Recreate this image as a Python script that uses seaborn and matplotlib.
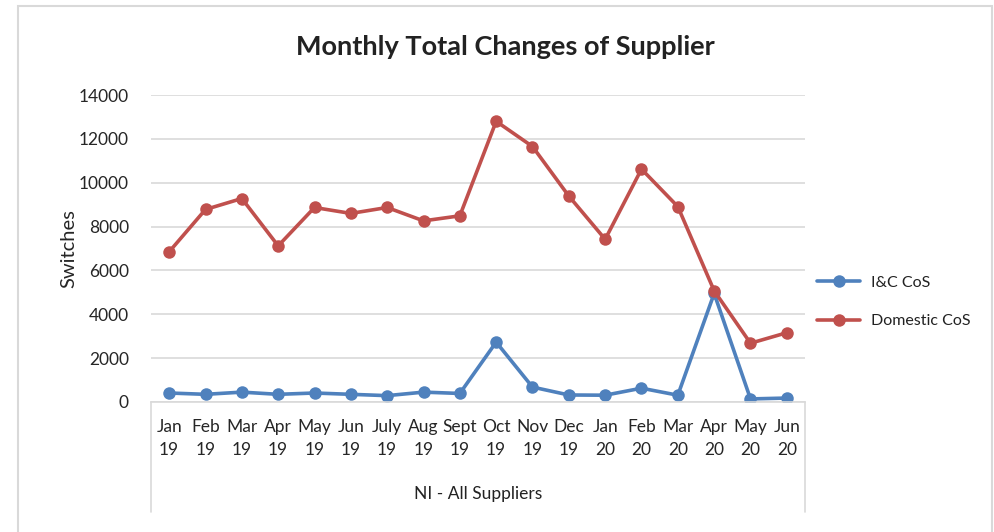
import numpy as np
import pandas as pd
import seaborn as sns
import matplotlib.pyplot as plt
from matplotlib.lines import Line2D
from matplotlib.patches import Rectangle

months = ['Jan', 'Feb', 'Mar', 'Apr', 'May', 'Jun', 'July', 'Aug', 'Sept',
          'Oct', 'Nov', 'Dec', 'Jan', 'Feb', 'Mar', 'Apr', 'May', 'Jun']
years = ['19'] * 12 + ['20'] * 6
ic_cos = [410, 350, 450, 350, 410, 350, 290, 450, 390,
          2730, 680, 320, 310, 630, 310, 4950, 140, 180]
domestic_cos = [6850, 8780, 9280, 7120, 8870, 8600, 8870, 8260, 8490,
                12800, 11650, 9390, 7420, 10620, 8910, 5070, 2680, 3160]

sns.set_style('white')
plt.rcParams['font.family'] = ['Lato', 'DejaVu Sans']
plt.rcParams['text.color'] = '#222222'

pos = list(range(len(months)))
df = pd.DataFrame({
    'pos': pos * 2,
    'value': ic_cos + domestic_cos,
    'series': ['I&C CoS'] * len(pos) + ['Domestic CoS'] * len(pos),
})

fig = plt.figure(figsize=(9.94, 5.32), dpi=100)
W, H = 994, 532
ax = fig.add_axes([151 / W, 1 - 402 / H, (805 - 151) / W, (402 - 95) / H])

sns.lineplot(data=df, x='pos', y='value', hue='series',
             palette={'I&C CoS': '#4F81BD', 'Domestic CoS': '#C0504D'},
             marker='o', markersize=9, markeredgewidth=0, linewidth=2.6,
             sort=False, ax=ax)

ax.set_xlim(-0.5, len(pos) - 0.5)
ax.set_ylim(0, 14000)
ax.set_yticks(range(0, 14001, 2000))
ax.set_yticklabels([str(v) for v in range(0, 14001, 2000)], fontsize=12.5)
ax.yaxis.grid(True, color='#D9D9D9', linewidth=1.2)
ax.set_axisbelow(True)
ax.set_xticks(pos)
ax.set_xticklabels([m + '\n' + y for m, y in zip(months, years)],
                   fontsize=12.5, linespacing=1.55)
ax.tick_params(axis='x', length=0, pad=12)
ax.tick_params(axis='y', length=0, pad=16)
for s in ['top', 'right', 'left']:
    ax.spines[s].set_visible(False)
ax.spines['bottom'].set_color('#D9D9D9')
ax.spines['bottom'].set_linewidth(1.2)
ax.set_xlabel('')
ax.set_ylabel('Switches', fontsize=14.5)
ax.yaxis.set_label_coords((77 - 151) / (805 - 151), 0.5)

# category group box
for xp in [151, 805]:
    fig.add_artist(Line2D([xp / W, xp / W], [1 - 402 / H, 1 - 512 / H],
                          color='#D9D9D9', linewidth=1.2))
fig.text(478 / W, 1 - 494 / H, 'NI - All Suppliers', ha='center', va='center',
         fontsize=12.5)

# outer chart border
fig.add_artist(Rectangle((18 / W, -0.05), (992 - 18) / W, 1 - 6 / H + 0.05,
                         transform=fig.transFigure, fill=False,
                         edgecolor='#D9D9D9', linewidth=1.5))

fig.text(505 / W, 1 - 47 / H, 'Monthly Total Changes of Supplier',
         ha='center', va='center', fontsize=19.5, fontweight='bold')

ax.legend(loc='center left', bbox_to_anchor=(817 / W, 1 - 302 / H),
          bbox_transform=fig.transFigure, frameon=False, fontsize=11.5,
          handlelength=2.7, labelspacing=1.5, handletextpad=0.7,
          borderpad=0, borderaxespad=0)

fig.savefig('out.png', dpi=100)
